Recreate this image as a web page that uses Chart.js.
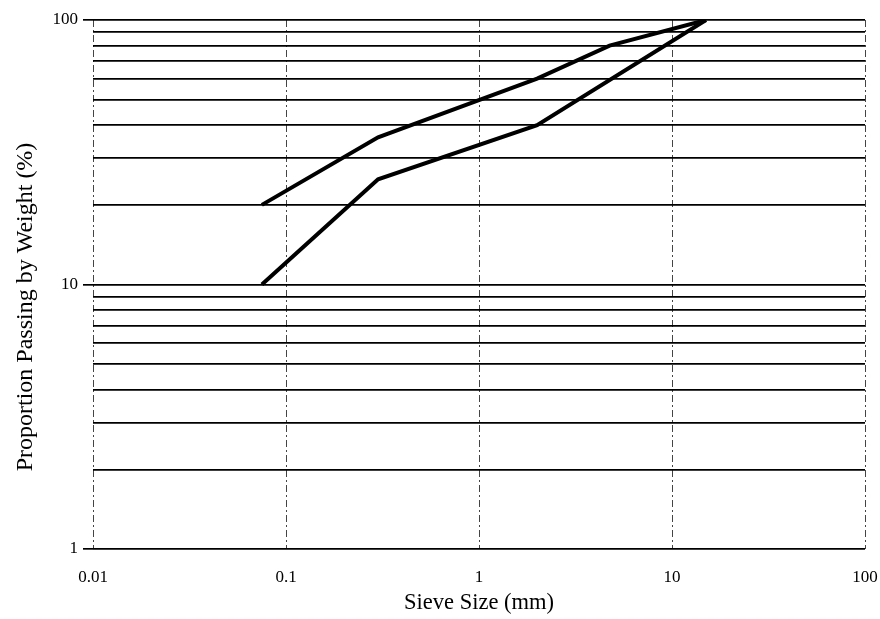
<!DOCTYPE html>
<html>
<head>
<meta charset="utf-8">
<script src="https://cdn.jsdelivr.net/npm/chart.js@4"></script>
<style>
  html, body { margin: 0; padding: 0; background: #fff; }
  canvas { display: block; }
</style>
</head>
<body>
<canvas id="grading" width="880" height="619"></canvas>
<script>
// grading envelope, sieve size (mm) vs % passing
const upperSieve = [0.075, 0.3, 2, 4.75, 15];
const upperPass  = [20, 36, 60, 80, 100];
const lowerSieve = [0.075, 0.3, 2, 15];
const lowerPass  = [10, 25, 40, 100];

const xTicks = [0.01, 0.1, 1, 10, 100];
const yTicks = [1, 2, 3, 4, 5, 6, 7, 8, 9, 10, 20, 30, 40, 50, 60, 70, 80, 90, 100];
const yLabelled = [1, 10, 100];
const yTitle = 'Proportion Passing by Weight (%)';

const pts = (xs, ys) => xs.map((x, i) => ({ x: x, y: ys[i] }));
const serif = 'Liberation Serif, Times New Roman, serif';

const line = {
  showLine: true, borderColor: '#000', borderWidth: 4,
  pointRadius: 0, tension: 0, fill: false
};

// y title sits a little below the middle of the axis, so draw it by hand
const yTitlePlugin = {
  id: 'yTitle',
  afterDraw(chart) {
    const ctx = chart.ctx;
    ctx.save();
    ctx.translate(26, 307);
    ctx.rotate(-Math.PI / 2);
    ctx.font = '24px ' + serif;
    ctx.fillStyle = '#000';
    ctx.textAlign = 'center';
    ctx.textBaseline = 'middle';
    ctx.fillText(yTitle, 0, 0);
    ctx.restore();
  }
};

new Chart(document.getElementById('grading').getContext('2d'), {
  type: 'scatter',
  data: {
    datasets: [
      Object.assign({ label: 'Upper', data: pts(upperSieve, upperPass) }, line),
      Object.assign({ label: 'Lower', data: pts(lowerSieve, lowerPass) }, line)
    ]
  },
  options: {
    responsive: false, animation: false,
    layout: { padding: { left: 0, top: 20, right: 0, bottom: 0 } },
    plugins: { legend: { display: false }, tooltip: { enabled: false } },
    scales: {
      x: {
        type: 'logarithmic', min: 0.01, max: 100,
        afterBuildTicks: s => { s.ticks = xTicks.map(v => ({ value: v })); },
        afterFit: s => { s.height = 70; s.paddingLeft = 0; s.paddingRight = 15; },
        grid: { color: '#444', lineWidth: 1, drawTicks: false },
        border: { display: false, dash: [7, 3, 2, 3] },
        ticks: { color: '#000', padding: 18, font: { family: serif, size: 17 },
                 callback: v => String(v) },
        title: { display: true, text: 'Sieve Size (mm)', color: '#000',
                 font: { family: serif, size: 22.5 }, padding: { top: 0, bottom: 2 } }
      },
      y: {
        type: 'logarithmic', min: 1, max: 100,
        afterBuildTicks: s => { s.ticks = yTicks.map(v => ({ value: v })); },
        afterFit: s => { s.width = 93; },
        grid: { color: '#000', lineWidth: 1.7, tickLength: 10, tickWidth: 1.7,
                tickColor: c => yLabelled.includes(c.tick.value) ? '#000' : 'rgba(0,0,0,0)' },
        border: { display: false },
        ticks: { color: '#000', padding: 5, font: { family: serif, size: 17 },
                 callback: v => yLabelled.includes(v) ? String(v) : '' }
      }
    }
  },
  plugins: [yTitlePlugin]
});
</script>
</body>
</html>
